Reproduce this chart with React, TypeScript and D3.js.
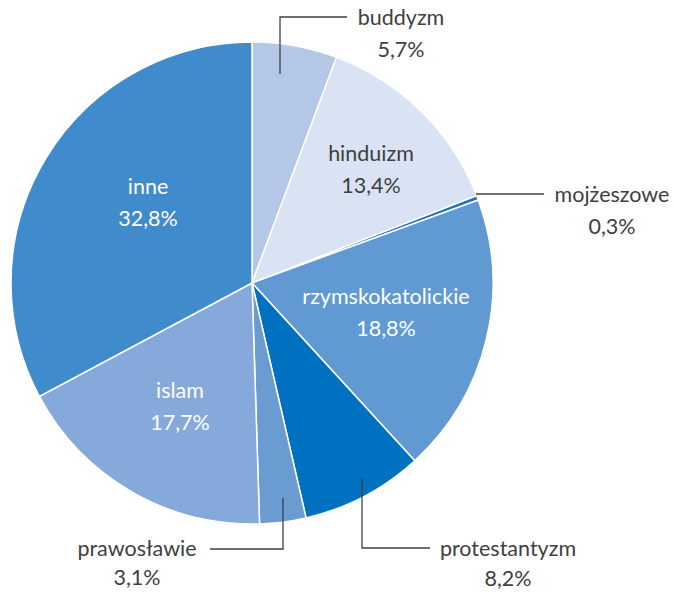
import { useEffect, useRef } from "react";
import * as d3 from "d3";

const names = [
  "buddyzm", "hinduizm", "mojżeszowe", "rzymskokatolickie",
  "protestantyzm", "prawosławie", "islam", "inne"
];
const values = [5.7, 13.4, 0.3, 18.8, 8.2, 3.1, 17.7, 32.8];
const labels = ["5,7%", "13,4%", "0,3%", "18,8%", "8,2%", "3,1%", "17,7%", "32,8%"];
const colors = [
  "#b4c7e7", "#dae3f3", "#1f6fc0", "#6199d2",
  "#0070c0", "#6a9bd1", "#86a9dc", "#3f8bcb"
];

// inside labels: [index, x, y, color]
const inside: [number, number, number, string][] = [
  [7, 148, 186, "#fff"],
  [1, 371, 153, "#404040"],
  [3, 386, 296, "#fff"],
  [6, 180, 390, "#fff"],
];

// outside labels with leader lines
const outside = [
  { i: 0, pts: [[280, 74], [280, 17], [347, 17]], x: 401, y: 17, gap: 32 },
  { i: 2, pts: [[476, 194], [544, 194]], x: 612, y: 194, gap: 32 },
  { i: 4, pts: [[362, 478], [362, 548], [430, 548]], x: 508, y: 548, gap: 30 },
  { i: 5, pts: [[283, 498], [283, 549], [210, 549]], x: 137, y: 548, gap: 29 },
];

export default function App() {
  const ref = useRef<SVGSVGElement>(null);

  useEffect(() => {
    const svg = d3.select(ref.current);
    svg.selectAll("*").remove();

    const width = 674, height = 592;
    const cx = 252, cy = 283, r = 241;
    const font = "Lato, 'Open Sans', sans-serif";
    const fs = 21.5;

    const pie = d3.pie<number>().sort(null).value(d => d);
    const arc = d3.arc<d3.PieArcDatum<number>>().innerRadius(0).outerRadius(r);

    const g = svg.append("g").attr("transform", `translate(${cx},${cy})`);
    g.selectAll("path")
      .data(pie(values))
      .join("path")
      .attr("d", arc)
      .attr("fill", (d, i) => colors[i])
      .attr("stroke", "#fff")
      .attr("stroke-width", 1.5);

    inside.forEach(([i, x, y, c]) => {
      const t = svg.append("text")
        .attr("text-anchor", "middle")
        .attr("font-family", font)
        .attr("font-size", fs)
        .attr("fill", c);
      t.append("tspan").attr("x", x).attr("y", y).attr("dy", "0.35em").text(names[i]);
      t.append("tspan").attr("x", x).attr("y", y + 32).attr("dy", "0.35em").text(labels[i]);
    });

    const line = d3.line();
    outside.forEach(o => {
      svg.append("path")
        .attr("d", line(o.pts as [number, number][]))
        .attr("fill", "none")
        .attr("stroke", "#404040")
        .attr("stroke-width", 1.3);
      const t = svg.append("text")
        .attr("text-anchor", "middle")
        .attr("font-family", font)
        .attr("font-size", fs)
        .attr("fill", "#404040");
      t.append("tspan").attr("x", o.x).attr("y", o.y).attr("dy", "0.35em").text(names[o.i]);
      t.append("tspan").attr("x", o.x).attr("y", o.y + o.gap).attr("dy", "0.35em").text(labels[o.i]);
    });

    svg.attr("width", width).attr("height", height);
  }, []);

  return (
    <svg ref={ref} style={{ position: "absolute", left: 0, top: 0 }}></svg>
  );
}
